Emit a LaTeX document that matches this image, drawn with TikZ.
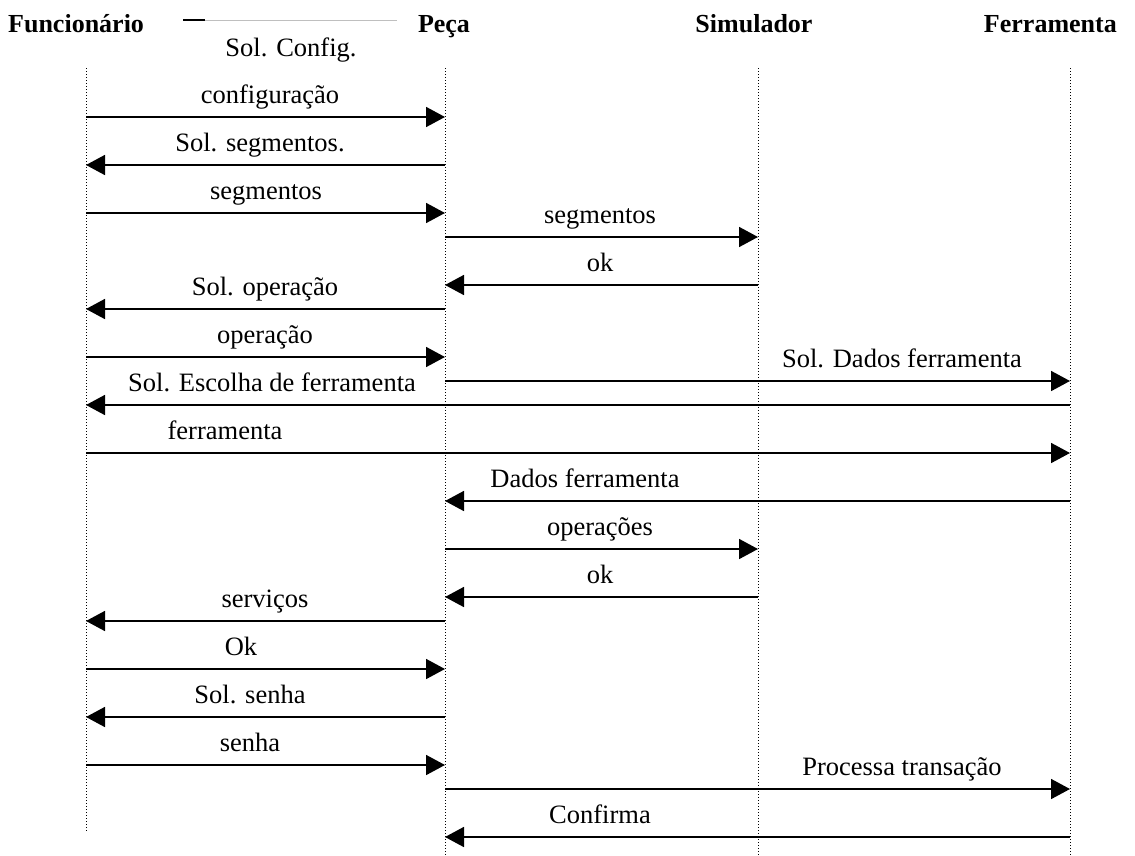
\documentclass[tikz,border=0pt]{standalone}
\usepackage{fontspec}
\setmainfont{Liberation Serif}
\usetikzlibrary{arrows.meta}
\tikzset{
  msg/.style={line width=1.7pt,-{Triangle[length=19pt,width=20pt]}},
  lifeline/.style={dotted,line width=1pt},
  lbl/.style={font=\fontsize{26.5}{26.5}\selectfont,inner sep=0pt,anchor=base},
  hdr/.style={font=\fontsize{26}{26}\selectfont\bfseries,inner sep=0pt}
}
\newcommand\msgarrow[6]{%
  \coordinate (#1s) at (#2,#4);
  \coordinate (#1e) at (#3,#4);
  \draw[msg] (#1s) -- (#1e);
  \node[lbl] (#1l) at (#5,#4-14) {#6};}
\begin{document}
\begin{tikzpicture}[x=1pt,y=-1pt]
\useasboundingbox (0,0) rectangle (1135,855);
% headers
\node[hdr,anchor=base west] (hF) at (8,32) {Funcionário};
\node[hdr,anchor=base] (hP) at (444,32) {Peça};
\node[hdr,anchor=base] (hS) at (754,32) {Simulador};
\node[hdr,anchor=base east] (hT) at (1117,32) {Ferramenta};
\node[lbl] (cfg) at (291,56) {Sol. Config.};
% top lines
\coordinate (tl1) at (183,20);
\coordinate (tl2) at (205,20);
\coordinate (tl3) at (397,20);
\draw[line width=1.4pt] (tl1) -- (tl2);
\draw[line width=0.8pt,black!25] (tl2) -- (tl3);
% lifelines
\coordinate (Ftop) at (86,68);  \coordinate (Fbot) at (86,832);
\coordinate (Ptop) at (445,68); \coordinate (Pbot) at (445,855);
\coordinate (Stop) at (758,68); \coordinate (Sbot) at (758,855);
\coordinate (Ttop) at (1070,68); \coordinate (Tbot) at (1070,855);
\draw[lifeline] (Ftop) -- (Fbot);
\draw[lifeline] (Ptop) -- (Pbot);
\draw[lifeline] (Stop) -- (Sbot);
\draw[lifeline] (Ttop) -- (Tbot);
% messages
\msgarrow{m1}{86}{445}{117}{270}{configuração}
\msgarrow{m2}{445}{86}{165}{260}{Sol. segmentos.}
\msgarrow{m3}{86}{445}{213}{266}{segmentos}
\msgarrow{m4}{445}{758}{237}{600}{segmentos}
\msgarrow{m5}{758}{445}{285}{600}{ok}
\msgarrow{m6}{445}{86}{309}{265}{Sol. operação}
\msgarrow{m7}{86}{445}{357}{265}{operação}
\msgarrow{m8}{445}{1070}{381}{902}{Sol. Dados ferramenta}
\msgarrow{m9}{1070}{86}{405}{272}{Sol. Escolha de ferramenta}
\msgarrow{m10}{86}{1070}{453}{225}{ferramenta}
\msgarrow{m11}{1070}{445}{501}{585}{Dados ferramenta}
\msgarrow{m12}{445}{758}{549}{600}{operações}
\msgarrow{m13}{758}{445}{597}{600}{ok}
\msgarrow{m14}{445}{86}{621}{265}{serviços}
\msgarrow{m15}{86}{445}{669}{241}{Ok}
\msgarrow{m16}{445}{86}{717}{250}{Sol. senha}
\msgarrow{m17}{86}{445}{765}{250}{senha}
\msgarrow{m18}{445}{1070}{789}{902}{Processa transação}
\msgarrow{m19}{1070}{445}{837}{600}{Confirma}
\end{tikzpicture}
\end{document}
